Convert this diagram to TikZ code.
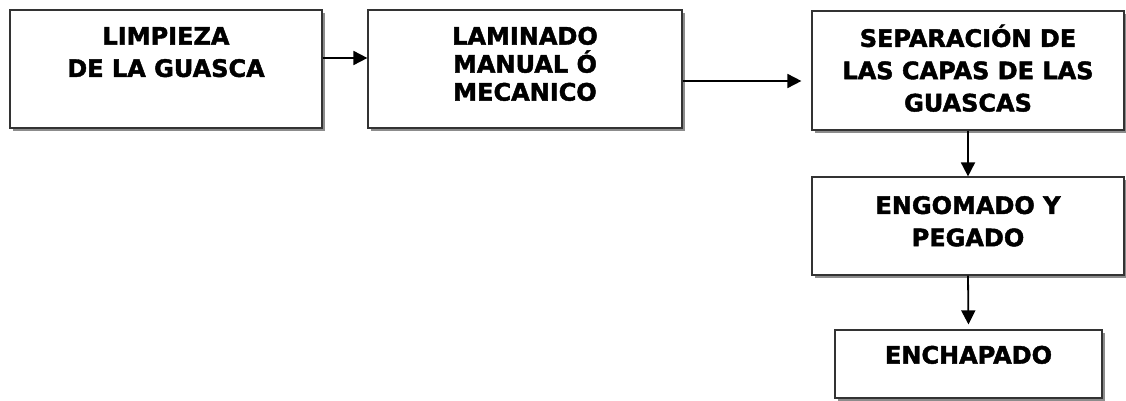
\documentclass[tikz,border=0pt]{standalone}
\usepackage{fontspec}
\setmainfont{DejaVu Sans}[BoldFeatures={FakeBold=1.8}]
\usetikzlibrary{arrows.meta,positioning,shadows}

\begin{document}
\begin{tikzpicture}[x=1pt,y=-1pt,
                box/.style={draw=black!80, line width=1.2pt, fill=white,
                  drop shadow={shadow xshift=3pt, shadow yshift=-3pt, fill=black!45, opacity=1},
                  minimum width=312pt, inner sep=0pt},
                lbl/.style={align=center, inner sep=0pt,
                  font=\fontsize{24}{32.3}\selectfont\bfseries},
                arr/.style={line width=1.8pt, -{Triangle[length=14pt,width=14pt]}}]
                \useasboundingbox (0,0) rectangle (1126,401);
                \node[box, minimum height=118pt] (limp) at (166,69) {};
                \node[lbl, below=17.5pt of limp.north] (limpt) {LIMPIEZA\\DE LA GUASCA};
                \node[box, minimum height=118pt, minimum width=314pt] (lam) at (525,69) {};
                \node[lbl, font=\fontsize{24}{28}\selectfont\bfseries,
                  below=17.2pt of lam.north] (lamt) {LAMINADO\\MANUAL Ó\\MECANICO};
                \node[box, minimum height=119pt] (sep) at (968,70.5) {};
                \node[lbl, below=14pt of sep.north] (sept) {SEPARACIÓN DE\\LAS CAPAS DE LAS\\GUASCAS};
                \node[box, minimum height=98pt] (eng) at (968,226) {};
                \node[lbl, below=19.5pt of eng.north] (engt) {ENGOMADO Y\\PEGADO};
                \node[box, minimum height=68pt, minimum width=267pt] (ench) at (968.5,364) {};
                \node[lbl, below=16.2pt of ench.north] (encht) {ENCHAPADO};
                \draw[arr] ([yshift=11pt]limp.east) -- ([yshift=11pt]limp.east -| lam.west);
                \draw[arr, shorten >=10pt] ([yshift=-12pt]lam.east) -- ([yshift=-12pt]lam.east -| sep.west);
                \draw[arr] (sep.south) -- (eng.north);
                \draw[arr, shorten >=5pt] (eng.south) -- (ench.north);
\end{tikzpicture}
\end{document}
